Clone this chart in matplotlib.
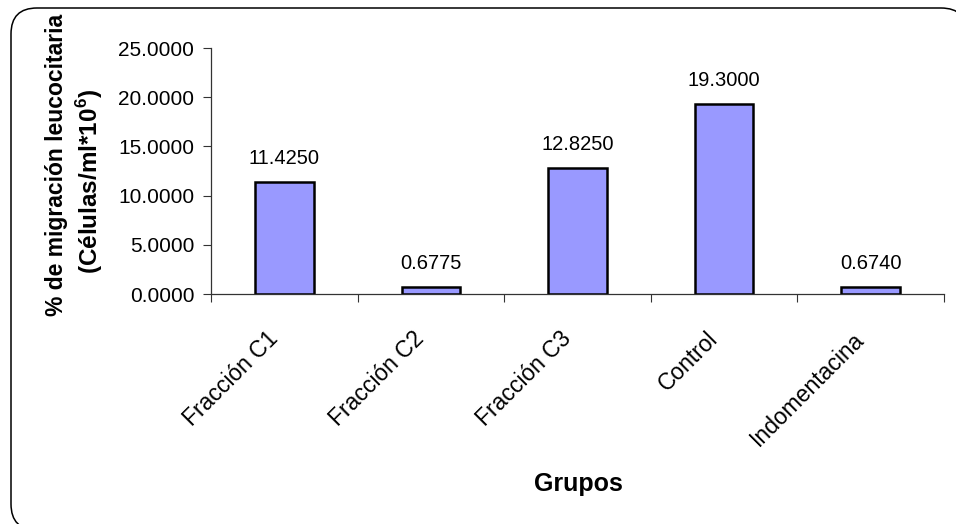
import matplotlib
matplotlib.use("Agg")
import matplotlib.pyplot as plt
from matplotlib.patches import FancyBboxPatch
from matplotlib.transforms import ScaledTranslation

plt.rcParams['font.family'] = ['Liberation Sans', 'DejaVu Sans']
plt.rcParams['mathtext.fontset'] = 'custom'
plt.rcParams['mathtext.rm'] = 'Liberation Sans'
plt.rcParams['mathtext.bf'] = 'Liberation Sans:bold'

grupos = ["Fracción C1", "Fracción C2", "Fracción C3", "Control", "Indomentacina"]
migracion = [11.4250, 0.6775, 12.8250, 19.3000, 0.6740]
y_ticks = [0, 5, 10, 15, 20, 25]

W, H = 956, 524
fig = plt.figure(figsize=(W / 100, H / 100), dpi=100)

# background layer in pixel units holding the rounded frame
# (the frame runs past the right and bottom edges of the figure)
bg = fig.add_axes([0, 0, 1, 1], zorder=-1)
bg.set_xlim(0, W)
bg.set_ylim(H, 0)
bg.axis("off")
frame = FancyBboxPatch((11, 8), 956, 522, boxstyle="round,pad=0,rounding_size=26",
                       facecolor="white", edgecolor="black", linewidth=1.1,
                       clip_on=False)
bg.add_patch(frame)

ax = fig.add_axes([211 / W, (H - 294) / H, (944 - 211) / W, (294 - 48) / H])
ax.set_facecolor("none")

x = list(range(len(grupos)))
bars = ax.bar(x, migracion, width=0.4, color="#9999FF", edgecolor="black", linewidth=1.8)

for xi, v in zip(x, migracion):
    ax.annotate(f"{v:.4f}", (xi, v), xytext=(0, 10), textcoords="offset points",
                ha="center", va="bottom", fontsize=14.5)

ax.set_xlim(-0.5, len(grupos) - 0.5)
ax.set_ylim(0, 25)
ax.set_yticks(y_ticks)
ax.set_yticklabels([f"{t:.4f}" for t in y_ticks], fontsize=15)

# category boundary ticks on the x axis, labels centred under each bar
ax.set_xticks([i - 0.5 for i in range(len(grupos) + 1)])
ax.set_xticklabels([])
ax.set_xticks(x, minor=True)
ax.set_xticklabels(grupos, minor=True, rotation=45, ha="right", rotation_mode="anchor",
                   fontsize=16.5)
ax.tick_params(axis="x", which="minor", length=0, pad=14)
ax.tick_params(axis="x", which="major", length=6, direction="out", width=0.8, color="#333333")
ax.tick_params(axis="y", length=6, direction="out", width=0.8, color="#333333", pad=6)
shift = ScaledTranslation(-18 / 100, -14 / 100, fig.dpi_scale_trans)
for lab in ax.get_xticklabels(minor=True):
    lab.set_transform(lab.get_transform() + shift)

for s in ("top", "right"):
    ax.spines[s].set_visible(False)
for s in ("left", "bottom"):
    ax.spines[s].set_color("#333333")
    ax.spines[s].set_linewidth(0.9)

fig.text(57 / W, 1 - 165 / H, "% de migración leucocitaria", rotation=90,
         ha="center", va="center", fontsize=16.5, fontweight="bold")
fig.text(90 / W, 1 - 181 / H, r"(Células/ml*10$^{\mathbf{6}}$)", rotation=90,
         ha="center", va="center", fontsize=17.5, fontweight="bold")
fig.text(578 / W, 1 - 484 / H, "Grupos", ha="center", va="center",
         fontsize=18, fontweight="bold")

fig.savefig("out.png", dpi=100)
